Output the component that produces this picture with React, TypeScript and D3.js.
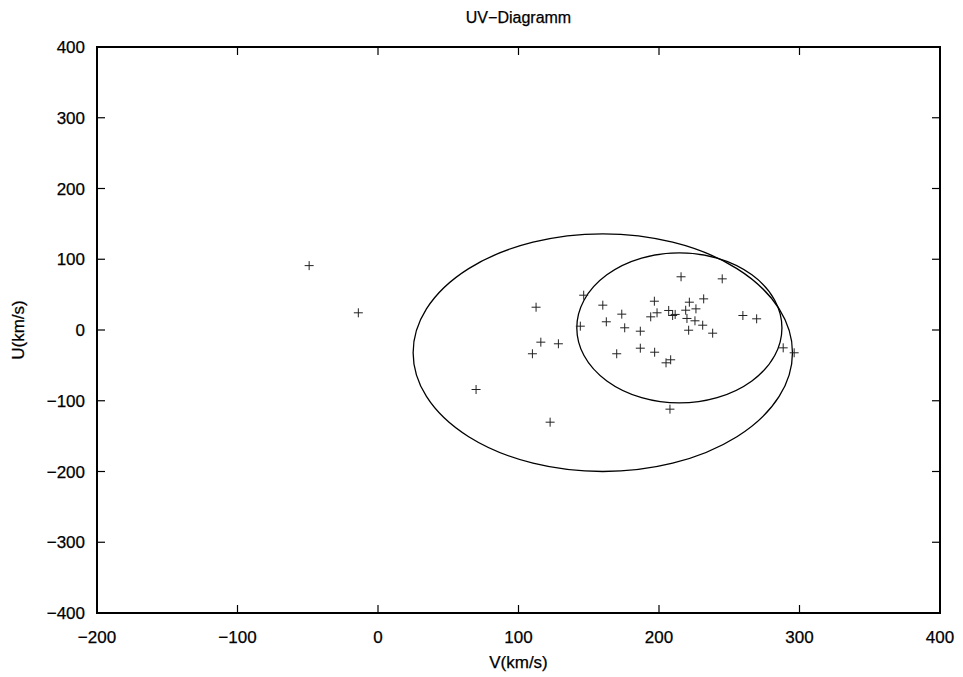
import React from "react";
import * as d3 from "d3";

const vValues = [
  -49, -14, 69.8, 122.5, 112.5, 115.9, 109.9, 128.4, 146.4, 144,
  160, 162.5, 169.9, 173.5, 175.6, 186.7, 186.7, 196.7, 198.6, 194.1,
  196.9, 206.9, 209.7, 205, 208.3, 207.8, 215.7, 221.6, 219.9, 221.1,
  226.3, 231.8, 225.6, 231.1, 238.2, 245, 259.7, 269.5, 288.4, 296.2,
  219, 211.5,
];
const uValues = [
  91, 24.3, -84.1, -130.3, 32.2, -17.2, -33.6, -19.5, 49.2, 5.4,
  35.1, 11.6, -33.6, 22.4, 3.1, -1.7, -25.7, 40.7, 24.3, 18.6,
  -31.4, 27.6, 20.5, -46.4, -42.1, -111.9, 75.2, 39.3, 16.3, -0.3,
  29.9, 44, 13, 6.8, -4.5, 72.3, 20.5, 15.8, -25.2, -32.2,
  28, 22,
];

// ellipse parameters: centre V, centre U, radius V, radius U
const ellipseCenterV = [160, 214.5];
const ellipseCenterU = [-32, 3];
const ellipseRadiusV = [135, 73];
const ellipseRadiusU = [168, 106];

const xTicks = [-200, -100, 0, 100, 200, 300, 400];
const yTicks = [-400, -300, -200, -100, 0, 100, 200, 300, 400];

const W = 963;
const H = 677;
const left = 97;
const right = 940;
const top = 47;
const bottom = 613;

export default function App() {
  const x = d3.scaleLinear().domain([-200, 400]).range([left, right]);
  const y = d3.scaleLinear().domain([-400, 400]).range([bottom, top]);
  const font = "'Liberation Sans', Arial, Helvetica, sans-serif";
  const tick = 8;
  const m = 4.5;
  const txt = { fill: "#000", stroke: "#000", strokeWidth: 0.25 };
  const fmt = (t: number) => (t < 0 ? "\u2212" + Math.abs(t) : String(t));

  return (
    <svg
      width={W}
      height={H}
      style={{ position: "absolute", left: 0, top: 0, background: "#fff" }}
      fontFamily={font}
    >
      <rect x={0} y={0} width={W} height={H} fill="#fff" />
      {xTicks.map((t) => (
        <g key={"xt" + t}>
          <line x1={x(t)} x2={x(t)} y1={bottom} y2={bottom - tick} stroke="#000" strokeWidth={1.2} />
          <line x1={x(t)} x2={x(t)} y1={top} y2={top + tick} stroke="#000" strokeWidth={1.2} />
          <text x={x(t)} y={643} textAnchor="middle" fontSize={17} {...txt}>
            {fmt(t)}
          </text>
        </g>
      ))}
      {yTicks.map((t) => (
        <g key={"yt" + t}>
          <line x1={left} x2={left + tick} y1={y(t)} y2={y(t)} stroke="#000" strokeWidth={1.2} />
          <line x1={right} x2={right - tick} y1={y(t)} y2={y(t)} stroke="#000" strokeWidth={1.2} />
          <text x={85} y={y(t) + 6} textAnchor="end" fontSize={17} {...txt}>
            {fmt(t)}
          </text>
        </g>
      ))}
      <rect x={left} y={top} width={right - left} height={bottom - top} fill="none" stroke="#000" strokeWidth={2} />
      {ellipseCenterV.map((cv, i) => (
        <ellipse
          key={"e" + i}
          cx={x(cv)}
          cy={y(ellipseCenterU[i])}
          rx={x(cv + ellipseRadiusV[i]) - x(cv)}
          ry={y(ellipseCenterU[i]) - y(ellipseCenterU[i] + ellipseRadiusU[i])}
          fill="none"
          stroke="#000"
          strokeWidth={1.3}
        />
      ))}
      {vValues.map((v, i) => {
        const px = x(v);
        const py = y(uValues[i]);
        return (
          <g key={"p" + i} stroke="#222" strokeWidth={1}>
            <line x1={px - m} x2={px + m} y1={py} y2={py} />
            <line x1={px} x2={px} y1={py - m} y2={py + m} />
          </g>
        );
      })}
      <text x={(left + right) / 2} y={23} textAnchor="middle" fontSize={16} {...txt}>
        UV{"\u2212"}Diagramm
      </text>
      <text x={(left + right) / 2} y={668} textAnchor="middle" fontSize={17} {...txt}>
        V(km/s)
      </text>
      <text
        transform={`translate(24, ${(top + bottom) / 2}) rotate(-90)`}
        textAnchor="middle"
        fontSize={17}
        {...txt}
      >
        U(km/s)
      </text>
    </svg>
  );
}
